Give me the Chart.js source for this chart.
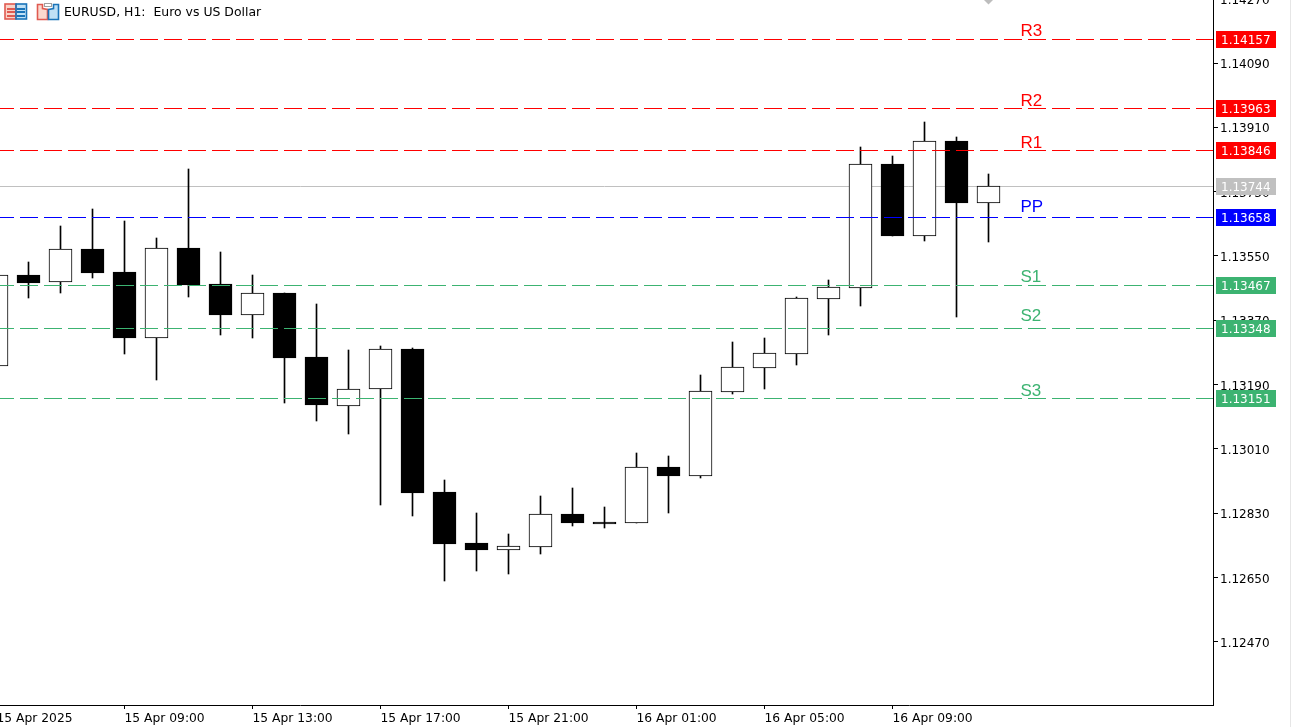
<!DOCTYPE html>
<html>
<head>
<meta charset="utf-8">
<title>EURUSD, H1</title>
<script src="https://cdn.jsdelivr.net/npm/chart.js@4"></script>
<style>
html, body { margin: 0; padding: 0; background: #fff; overflow: hidden; }
#wrap { width: 1299px; height: 739px; margin: -12px 0 0 -8px; }
canvas { display: block; }
</style>
</head>
<body>
<div id="wrap"><canvas id="chartOne"></canvas></div>
<script>
// bars, one hour each, only every 4th one gets a label
const categories = [
    '15 Apr 2025', '15 Apr 06:00', '15 Apr 07:00', '15 Apr 08:00',
    '15 Apr 09:00', '15 Apr 10:00', '15 Apr 11:00', '15 Apr 12:00',
    '15 Apr 13:00', '15 Apr 14:00', '15 Apr 15:00', '15 Apr 16:00',
    '15 Apr 17:00', '15 Apr 18:00', '15 Apr 19:00', '15 Apr 20:00',
    '15 Apr 21:00', '15 Apr 22:00', '15 Apr 23:00', '16 Apr 00:00',
    '16 Apr 01:00', '16 Apr 02:00', '16 Apr 03:00', '16 Apr 04:00',
    '16 Apr 05:00', '16 Apr 06:00', '16 Apr 07:00', '16 Apr 08:00',
    '16 Apr 09:00', '16 Apr 10:00', '16 Apr 11:00', '16 Apr 12:00'
];
const open = [1.13243, 1.13497, 1.13477, 1.13570, 1.13505, 1.13320, 1.13572, 1.13472,
    1.13385, 1.13446, 1.13267, 1.13130, 1.13178, 1.13290, 1.12889, 1.12747,
    1.12727, 1.12735, 1.12828, 1.12805, 1.12803, 1.12959, 1.12934, 1.13169,
    1.13237, 1.13276, 1.13430, 1.13460, 1.13808, 1.13606, 1.13872, 1.13698];
const high = [1.13510, 1.13533, 1.13634, 1.13682, 1.13648, 1.13600, 1.13794, 1.13561,
    1.13497, 1.13446, 1.13416, 1.13287, 1.13298, 1.13292, 1.12923, 1.12831,
    1.12772, 1.12878, 1.12901, 1.12847, 1.12999, 1.12990, 1.13217, 1.13309,
    1.13320, 1.13435, 1.13483, 1.13855, 1.13830, 1.13925, 1.13883, 1.13780];
const low = [1.13230, 1.13432, 1.13446, 1.13488, 1.13276, 1.13203, 1.13435, 1.13329,
    1.13320, 1.13138, 1.13088, 1.13052, 1.12853, 1.12822, 1.12640, 1.12668,
    1.12660, 1.12716, 1.12794, 1.12789, 1.12803, 1.12831, 1.12929, 1.13164,
    1.13178, 1.13245, 1.13329, 1.13410, 1.13606, 1.13592, 1.13379, 1.13589];
const close = [1.13497, 1.13474, 1.13570, 1.13502, 1.13320, 1.13572, 1.13469, 1.13385,
    1.13446, 1.13264, 1.13133, 1.13178, 1.13290, 1.12887, 1.12744, 1.12727,
    1.12738, 1.12828, 1.12803, 1.12800, 1.12959, 1.12934, 1.13172, 1.13239,
    1.13279, 1.13432, 1.13463, 1.13808, 1.13606, 1.13872, 1.13698, 1.13747];

const levelNames = ['R3', 'R2', 'R1', 'PP', 'S1', 'S2', 'S3'];
const levelValues = [1.14157, 1.13963, 1.13846, 1.13658, 1.13467, 1.13348, 1.13151];
const levelColors = ['#ff0000', '#ff0000', '#ff0000', '#0000ff', '#3cb371', '#3cb371', '#3cb371'];
const levelLift = [3, 2, 2, 5, 3, 7, 2];
const lastPrice = 1.13744;

const yTicks = [1.1427, 1.1409, 1.1391, 1.1373, 1.1355, 1.1337, 1.1319, 1.1301, 1.1283, 1.1265, 1.1247];
const xTicks = [0, 4, 8, 12, 16, 20, 24, 28];

const xMin = -0.015625;
const xMax = 38.015625;
const font12 = '12px "DejaVu Sans"';

function hline(value, color, dash, order) {
    return {
        type: 'line',
        data: [{ x: xMin, y: value }, { x: xMax, y: value }],
        borderColor: color,
        borderWidth: 1,
        borderDash: dash,
        pointRadius: 0,
        order: order
    };
}

// MT5 draws on whole pixels, so snap the bars and lines after the scales placed them
const pixelSnap = {
    id: 'pixelSnap',
    afterDatasetsUpdate(chart) {
        chart.data.datasets.forEach((ds, i) => {
            chart.getDatasetMeta(i).data.forEach(el => {
                if (ds.type === 'line') {
                    el.y = Math.floor(el.y) + 0.5;
                } else {
                    el.y = Math.round(el.y);
                    el.base = Math.round(el.base);
                }
            });
        });
    }
};

// the terminal's own furniture: header, level names, price badges
const overlay = {
    id: 'overlay',
    afterDraw(chart) {
        const c = chart.ctx;
        const yScale = chart.scales.y;
        c.save();
        c.translate(8, 12);
        c.textBaseline = 'alphabetic';
        c.textAlign = 'left';

        c.fillStyle = '#e6e6e6';
        c.fillRect(1290, 0, 1, 727);

        // period separator marker
        c.fillStyle = '#bdbdbd';
        c.beginPath();
        c.moveTo(984, 0);
        c.lineTo(993, 0);
        c.lineTo(988.5, 4.5);
        c.fill();

        // header icons
        c.lineWidth = 1.6;
        c.fillStyle = '#f9d3c8';
        c.fillRect(5, 4, 11, 15);
        c.fillStyle = '#bfe0f5';
        c.fillRect(16, 4, 10, 15);
        c.strokeStyle = '#e05a50';
        c.strokeRect(5, 4, 11, 15);
        c.strokeStyle = '#1a73b8';
        c.strokeRect(16, 4, 10.5, 15);
        [8, 11, 15].forEach(y => {
            c.fillStyle = '#e05a50';
            c.fillRect(7, y, 8, 2);
            c.fillStyle = '#1a73b8';
            c.fillRect(17, y, 8, 2);
        });
        c.fillStyle = '#fbd9cf';
        c.strokeStyle = '#e05a50';
        c.beginPath();
        c.moveTo(37.5, 4.5); c.lineTo(42.5, 4.5); c.lineTo(42.5, 8.5); c.lineTo(47.5, 9.5);
        c.lineTo(47.5, 19.5); c.lineTo(37.5, 19.5); c.closePath();
        c.fill(); c.stroke();
        c.fillStyle = '#bfe0f5';
        c.strokeStyle = '#1a73b8';
        c.beginPath();
        c.moveTo(48.5, 9.5); c.lineTo(53.5, 8.5); c.lineTo(53.5, 4.5); c.lineTo(58.5, 4.5);
        c.lineTo(58.5, 19.5); c.lineTo(48.5, 19.5); c.closePath();
        c.fill(); c.stroke();
        c.lineWidth = 1;
        c.strokeStyle = '#a0a0a0';
        c.strokeRect(44.5, 3.5, 7, 3);

        c.fillStyle = '#000';
        c.font = '12.45px "DejaVu Sans"';
        c.fillText('EURUSD, H1:  Euro vs US Dollar', 64, 16);

        const badge = (value, color) => {
            const y = Math.floor(yScale.getPixelForValue(value)) - 12;
            c.fillStyle = color;
            c.fillRect(1216, y - 8, 60, 17);
            c.fillStyle = '#fff';
            c.font = font12;
            c.fillText(value.toFixed(5), 1221, y + 5);
        };
        badge(lastPrice, '#c0c0c0');
        levelValues.forEach((v, i) => {
            badge(v, levelColors[i]);
            const y = Math.floor(yScale.getPixelForValue(v)) - 12;
            c.fillStyle = levelColors[i];
            c.font = '17px "Liberation Sans"';
            c.fillText(levelNames[i], 1020.5, y - levelLift[i]);
        });
        c.restore();
    }
};

const ctx = document.getElementById('chartOne').getContext('2d');
const chartOne = new Chart(ctx, {
    data: {
        datasets: [
            ...levelValues.map((v, i) => hline(v, levelColors[i], [18, 6], 0)),
            {
                type: 'bar',
                data: categories.map((c, i) => ({ x: i, y: [open[i], close[i]] })),
                backgroundColor: categories.map((c, i) => close[i] >= open[i] ? '#ffffff' : '#000000'),
                borderColor: '#000000',
                borderWidth: 1,
                borderSkipped: false,
                barThickness: 23,
                grouped: false,
                order: 1
            },
            {
                type: 'bar',
                data: categories.map((c, i) => ({ x: i, y: [low[i], high[i]] })),
                backgroundColor: '#000000',
                barThickness: 1,
                grouped: false,
                order: 2
            },
            hline(lastPrice, '#c0c0c0', [], 3)
        ]
    },
    options: {
        responsive: true,
        maintainAspectRatio: false,
        animation: false,
        events: [],
        layout: { padding: { left: 4, top: 0, right: 0, bottom: 0 } },
        plugins: { legend: { display: false }, tooltip: { enabled: false } },
        scales: {
            x: {
                type: 'linear',
                offset: false,
                min: xMin,
                max: xMax,
                afterBuildTicks: axis => { axis.ticks = xTicks.map(v => ({ value: v })); },
                afterFit: axis => {
                    axis.height = 22;
                    axis.paddingLeft = 0;
                    axis.paddingRight = 0;
                },
                border: { color: '#000', width: 1 },
                grid: { offset: false, drawOnChartArea: false, drawTicks: true, tickLength: 4, color: '#000' },
                ticks: {
                    autoSkip: false,
                    maxRotation: 0,
                    align: 'start',
                    padding: 2,
                    color: '#000',
                    font: { family: 'DejaVu Sans', size: 12.3 },
                    callback: v => categories[v]
                }
            },
            y: {
                position: 'right',
                min: 1.12293,
                max: 1.143,
                afterBuildTicks: axis => { axis.ticks = yTicks.map(v => ({ value: v })); },
                afterFit: axis => {
                    axis.width = 78;
                    axis.paddingTop = 0;
                    axis.paddingBottom = 0;
                },
                border: { color: '#000', width: 1 },
                grid: { drawOnChartArea: false, drawTicks: true, tickLength: 5, color: '#000' },
                ticks: {
                    autoSkip: false,
                    padding: 2,
                    labelOffset: 2,
                    color: '#000',
                    font: { family: 'DejaVu Sans', size: 12 },
                    callback: v => v.toFixed(5)
                }
            }
        }
    },
    plugins: [pixelSnap, overlay]
});
</script>
</body>
</html>
